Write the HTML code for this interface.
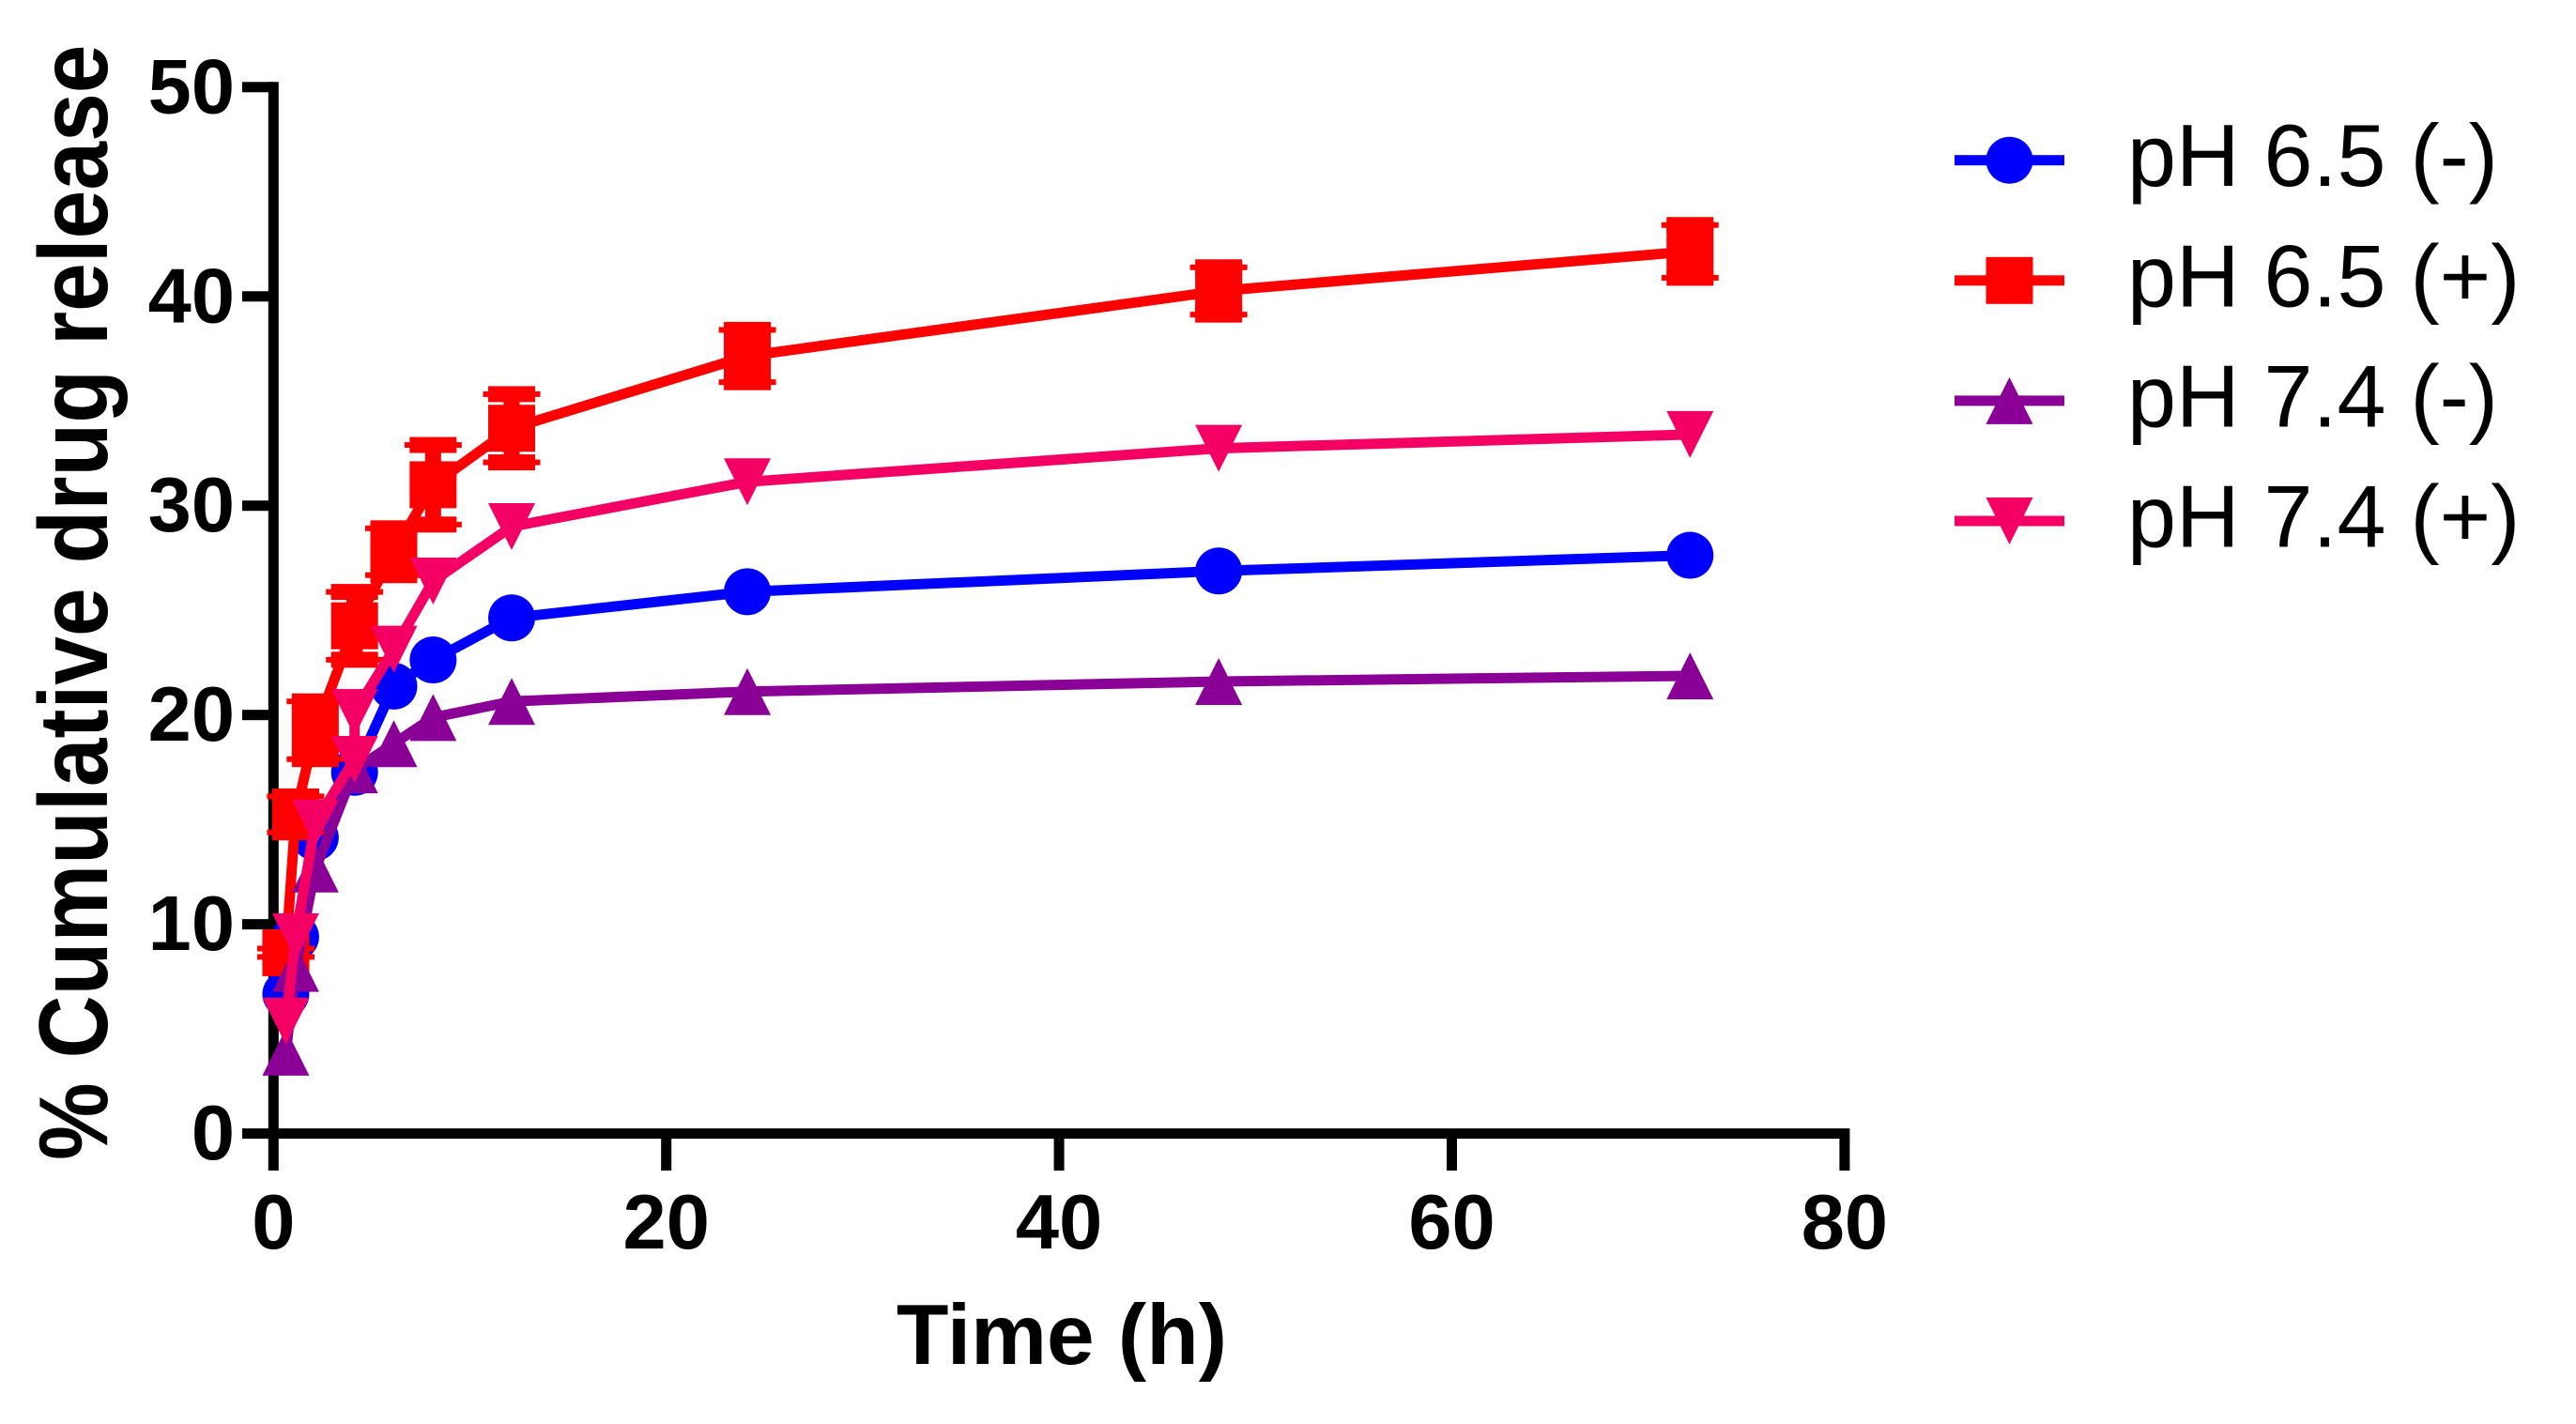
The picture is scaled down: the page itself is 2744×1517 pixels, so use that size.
<!DOCTYPE html>
<html lang="en">
<head>
<meta charset="utf-8">
<title>Cumulative drug release</title>
<style>
html,body{margin:0;padding:0;background:#fff;width:2744px;height:1517px;overflow:hidden}
svg{display:block}
text{font-family:"Liberation Sans",Arial,sans-serif;fill:#000}
.bold{font-weight:700}
</style>
</head>
<body>
<svg id="chart" xmlns="http://www.w3.org/2000/svg" width="2744" height="1517" viewBox="0 0 2744 1517">
  <rect x="0" y="0" width="2744" height="1517" fill="#fff"/>
  <g id="axes"></g>
  <g id="series"></g>
  <g id="legend"></g>
  <text class="bold" x="1131" y="1453" font-size="91" text-anchor="middle">Time (h)</text>
  <text class="bold" transform="translate(114,1236) rotate(-90) scale(1,1.12)" x="0" y="0" font-size="93">% Cumulative drug release</text>
</svg>
<script>
const xTicks = [0, 20, 40, 60, 80];
const yTicks = [0, 10, 20, 30, 40, 50];
const timesHours = [0.5, 1, 2, 4, 6, 8, 12, 24, 48, 72];
const pinkTimes = [0.5, 1, 2, 4, 4, 6, 8, 12, 24, 48, 72];
const bluePh65Minus = [6.66, 9.4, 14.15, 17.26, 21.38, 22.63, 24.64, 25.89, 26.88, 27.63];
const redPh65Plus = [8.64, 15.25, 19.27, 24.26, 27.8, 31.0, 33.7, 37.15, 40.26, 42.15];
const redPh65PlusError = [0.2, 0.86, 1.38, 1.62, 1.12, 1.9, 1.63, 1.25, 1.13, 1.26];
const purplePh74Minus = [3.89, 7.89, 12.64, 17.38, 18.63, 19.88, 20.65, 21.12, 21.6, 21.87];
const pinkPh74Plus = [5.37, 9.4, 14.84, 17.88, 20.12, 23.14, 26.4, 29.0, 31.14, 32.74, 33.4];
const legendLabels = ['pH 6.5 (-)', 'pH 6.5 (+)', 'pH 7.4 (-)', 'pH 7.4 (+)'];

const NS = 'http://www.w3.org/2000/svg';
const BLUE = '#0000ff', RED = '#ff0000', PURPLE = '#8a0096', PINK = '#f40065';
function xAxis(t){ return 291.3 + 20.92 * t; }
function yAxis(v){ return 1207.6 - 22.296 * v; }
function xData(t){ return xAxis(t) + 2.7; }

function make(tag, attrs, parent){
  const node = document.createElementNS(NS, tag);
  for (const k in attrs) node.setAttribute(k, attrs[k]);
  parent.appendChild(node);
  return node;
}

function drawMarker(shape, cx, cy, color, parent){
  let m;
  if (shape === 'circle') {
    m = make('circle', {cx: cx, cy: cy, r: 25, fill: color}, parent);
  } else if (shape === 'square') {
    m = make('rect', {x: cx - 25, y: cy - 25, width: 50, height: 50, fill: color}, parent);
  } else if (shape === 'up') {
    m = make('polygon', {points: (cx-25)+','+(cy+25)+' '+(cx+25)+','+(cy+25)+' '+cx+','+(cy-25), fill: color}, parent);
  } else {
    m = make('polygon', {points: (cx-25)+','+(cy-25)+' '+(cx+25)+','+(cy-25)+' '+cx+','+(cy+25), fill: color}, parent);
  }
  
  
  return m;
}

function drawSeries(name, times, values, errors, shape, color){
  const g = make('g', {}, document.getElementById('series'));
  
  
  const pts = times.map((t, i) => xData(t).toFixed(1) + ',' + yAxis(values[i]).toFixed(1)).join(' ');
  const line = make('polyline', {points: pts, fill: 'none', stroke: color, 'stroke-width': 11, 'stroke-linejoin': 'round'}, g);
  
  
  times.forEach((t, i) => {
    const cx = xData(t), cy = yAxis(values[i]);
    if (errors) {
      const top = yAxis(values[i] + errors[i]), bot = yAxis(values[i] - errors[i]);
      const stem = make('rect', {x: cx - 8.5, y: top, width: 17, height: bot - top, fill: color}, g);
      
      
      [top, bot].forEach(cap => {
        const c1 = make('rect', {x: cx - 25, y: cap - 8.5, width: 50, height: 17, fill: color}, g);
        
        
        const c2 = make('rect', {x: cx - 30.5, y: cap - 3, width: 61, height: 6, fill: color}, g);
        
        
      });
    }
    drawMarker(shape, cx, cy, color, g);
  });
}

function drawAxes(){
  const g = document.getElementById('axes');
  const yLine = make('rect', {x: xAxis(0) - 5.5, y: yAxis(50) - 5.5, width: 11, height: yAxis(0) - yAxis(50) + 11, fill: '#000'}, g);
  
  
  const xLine = make('rect', {x: xAxis(0) - 5.5, y: yAxis(0) - 5.5, width: xAxis(80) - xAxis(0) + 11, height: 11, fill: '#000'}, g);
  
  
  yTicks.forEach(v => {
    const y = yAxis(v);
    const tick = make('rect', {x: 258, y: y - 5.5, width: xAxis(0) - 258, height: 11, fill: '#000'}, g);
    
    
    const label = make('text', {x: 250, y: y + 27.5, 'font-size': 83, 'text-anchor': 'end', 'class': 'bold'}, g);
    label.textContent = String(v);
    
    
  });
  xTicks.forEach(t => {
    const x = xAxis(t);
    const tick = make('rect', {x: x - 5.5, y: yAxis(0), width: 11, height: 1247 - yAxis(0), fill: '#000'}, g);
    
    
    const label = make('text', {x: x, y: 1330, 'font-size': 83, 'text-anchor': 'middle', 'class': 'bold'}, g);
    label.textContent = String(t);
    
    
  });
}

function drawLegend(){
  const g = document.getElementById('legend');
  const shapes = ['circle', 'square', 'up', 'down'];
  const colors = [BLUE, RED, PURPLE, PINK];
  legendLabels.forEach((text, i) => {
    const y = 170.7 + 128.1 * i;
    const entry = make('g', {}, g);
    
    
    const swatch = make('rect', {x: 2082, y: y - 5.5, width: 117, height: 11, fill: colors[i]}, entry);
    
    
    drawMarker(shapes[i], 2140.5, y, colors[i], entry);
    const label = make('text', {x: 2266, y: y + 27.5, 'font-size': 93.5}, entry);
    label.textContent = text;
    
    
  });
}

drawAxes();
drawSeries('series-ph-6-5-minus', timesHours, bluePh65Minus, null, 'circle', BLUE);
drawSeries('series-ph-6-5-plus', timesHours, redPh65Plus, redPh65PlusError, 'square', RED);
drawSeries('series-ph-7-4-minus', timesHours, purplePh74Minus, null, 'up', PURPLE);
drawSeries('series-ph-7-4-plus', pinkTimes, pinkPh74Plus, null, 'down', PINK);
drawLegend();
</script>
</body>
</html>
